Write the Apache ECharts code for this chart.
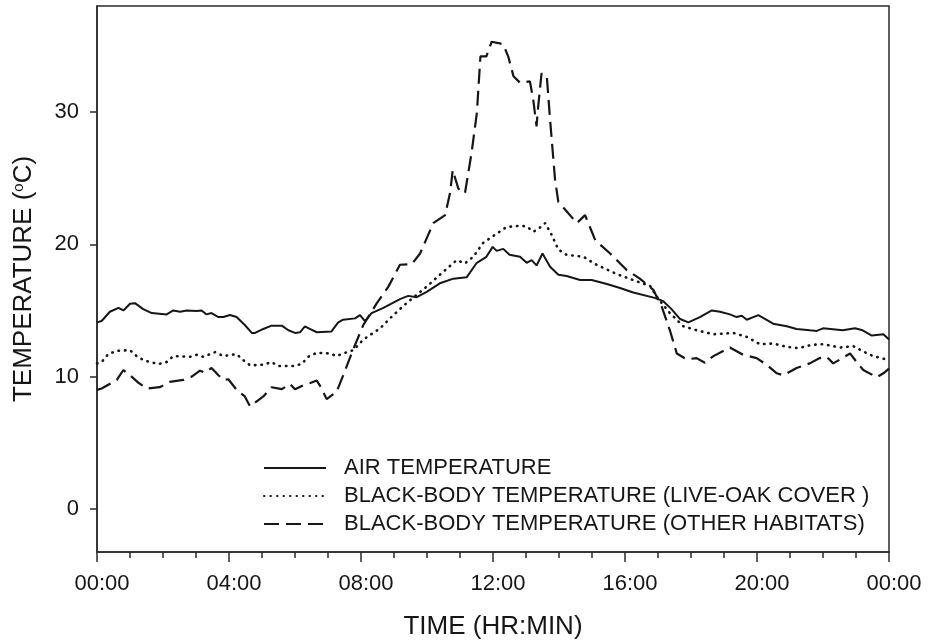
<!DOCTYPE html>
<html>
<head>
<meta charset="utf-8">
<script src="https://cdn.jsdelivr.net/npm/echarts@6/dist/echarts.min.js"></script>
<style>html,body{margin:0;padding:0;background:#fff;}#c{width:930px;height:644px;}</style>
</head>
<body>
<div id="c"></div>
<script>
// [hour, temperature °C]
const airTemp = [[0,14.1],[0.14,14.2],[0.39,14.9],[0.65,15.2],[0.8,15.0],[1.0,15.5],[1.15,15.55],[1.4,15.1],[1.66,14.8],[2.11,14.7],[2.31,15.0],[2.52,14.9],[2.72,15.0],[3.02,14.95],[3.17,15.0],[3.32,14.7],[3.47,14.8],[3.68,14.5],[3.83,14.5],[4.03,14.65],[4.23,14.5],[4.48,13.9],[4.69,13.3],[4.79,13.3],[5.04,13.6],[5.29,13.85],[5.6,13.85],[5.8,13.5],[6.0,13.3],[6.15,13.35],[6.3,13.8],[6.45,13.6],[6.66,13.35],[7.1,13.4],[7.31,14.1],[7.46,14.3],[7.82,14.4],[7.97,14.65],[8.12,14.2],[8.32,14.8],[8.68,15.2],[9.18,15.85],[9.43,16.1],[9.69,16.0],[9.99,16.4],[10.39,17.05],[10.8,17.4],[11.2,17.5],[11.51,18.6],[11.8,19.05],[11.99,19.8],[12.11,19.5],[12.31,19.65],[12.5,19.2],[12.82,19.05],[13.02,18.6],[13.17,18.8],[13.32,18.4],[13.5,19.3],[13.73,18.3],[13.98,17.7],[14.23,17.6],[14.64,17.3],[14.99,17.3],[15.45,17.0],[15.85,16.7],[16.25,16.35],[16.9,15.95],[17.16,15.7],[17.41,15.1],[17.67,14.35],[17.92,14.1],[18.27,14.5],[18.63,15.0],[18.88,14.9],[19.18,14.7],[19.38,14.5],[19.54,14.6],[19.69,14.3],[20.04,14.65],[20.49,14.0],[20.9,13.8],[21.2,13.6],[21.6,13.5],[21.81,13.45],[22.0,13.65],[22.6,13.5],[22.97,13.65],[23.2,13.5],[23.48,13.1],[23.83,13.2],[24,12.8]];

const oakTemp = [[0,11.0],[0.14,11.1],[0.34,11.7],[0.6,11.95],[1.0,12.0],[1.2,11.55],[1.45,11.2],[1.86,10.95],[2.11,11.1],[2.31,11.55],[2.82,11.5],[3.02,11.65],[3.22,11.5],[3.58,11.85],[3.83,11.55],[4.23,11.7],[4.43,11.25],[4.64,10.85],[5.04,10.9],[5.29,11.1],[5.5,10.8],[5.95,10.8],[6.2,10.95],[6.4,11.5],[6.66,11.8],[7.06,11.75],[7.26,11.55],[7.46,11.75],[7.77,12.0],[8.07,12.8],[8.58,13.65],[8.98,14.65],[9.38,15.55],[9.99,16.8],[10.39,17.7],[10.9,18.8],[11.15,18.55],[11.4,19.05],[11.7,20.1],[12.11,20.8],[12.41,21.3],[12.82,21.4],[13.02,21.35],[13.22,20.95],[13.37,21.15],[13.58,21.6],[13.78,20.7],[13.98,19.6],[14.23,19.2],[14.74,19.05],[15.14,18.45],[15.75,17.75],[16.35,17.2],[16.76,16.85],[17.0,15.9],[17.36,14.8],[17.77,13.8],[18.17,13.5],[18.68,13.2],[19.28,13.3],[19.69,13.0],[20.09,12.45],[20.49,12.5],[20.9,12.25],[21.25,12.15],[21.66,12.4],[22.0,12.45],[22.52,12.2],[22.92,12.3],[23.22,11.9],[23.52,11.55],[24,11.25]];

const otherTemp = [[0,9.0],[0.14,9.1],[0.6,9.75],[0.8,10.5],[1.0,10.1],[1.25,9.55],[1.5,9.1],[1.9,9.2],[2.2,9.6],[2.62,9.75],[2.87,10.0],[3.12,10.45],[3.27,10.3],[3.47,10.65],[3.68,10.1],[3.83,9.75],[3.98,9.8],[4.23,9.0],[4.48,8.5],[4.64,7.75],[5.04,8.5],[5.29,9.2],[5.6,9.05],[5.85,9.45],[6.0,9.05],[6.25,9.35],[6.5,9.55],[6.66,9.7],[6.76,9.3],[6.96,8.3],[7.26,8.85],[7.46,10.1],[7.77,12.1],[8.07,13.9],[8.48,15.55],[8.83,16.8],[9.18,18.45],[9.54,18.5],[9.79,19.3],[10.19,21.6],[10.55,22.2],[10.7,23.9],[10.78,25.6],[10.95,24.2],[11.15,23.85],[11.35,26.9],[11.51,29.9],[11.62,34.2],[11.8,34.2],[11.96,35.3],[12.16,35.2],[12.31,35.1],[12.46,34.2],[12.62,32.7],[12.82,32.2],[13.12,32.3],[13.22,30.9],[13.32,28.9],[13.35,29.9],[13.47,32.9],[13.63,32.7],[13.73,29.4],[13.88,24.9],[13.98,23.2],[14.23,22.5],[14.54,21.6],[14.79,22.2],[15.1,20.3],[15.55,19.3],[16.05,18.05],[16.45,17.4],[16.86,16.55],[17.11,15.3],[17.36,13.5],[17.57,11.75],[17.87,11.3],[18.17,11.4],[18.42,11.05],[18.68,11.55],[19.18,12.2],[19.58,11.65],[19.99,11.4],[20.29,10.9],[20.6,10.25],[20.8,10.1],[21.2,10.65],[21.6,11.0],[21.9,11.4],[22.11,11.5],[22.31,11.0],[22.52,11.3],[22.82,11.75],[23.02,11.1],[23.22,10.5],[23.63,9.95],[23.83,10.25],[24,10.6]];

const seriesNames = ['AIR TEMPERATURE', 'BLACK-BODY TEMPERATURE (LIVE-OAK COVER )', 'BLACK-BODY TEMPERATURE (OTHER HABITATS)'];
const hourTicks = [0, 4, 8, 12, 16, 20, 24];
const tickLabels = ['00:00', '04:00', '08:00', '12:00', '16:00', '20:00', '00:00'];
const yTicks = [0, 10, 20, 30];

const FONT = '"Liberation Sans", Arial, sans-serif';
const INK = '#161616';
const chart = echarts.init(document.getElementById('c'));
chart.setOption({
  animation: false,
  backgroundColor: '#fff',
  grid: { left: 97, right: 41, top: 6, bottom: 92, outerBoundsMode: 'none', containLabel: false,
    show: true, borderColor: '#2a2a2a', borderWidth: 1.5, backgroundColor: 'transparent' },
  legend: {
    orient: 'vertical', left: 258, top: 452, itemWidth: 62, itemHeight: 14, itemGap: 6,
    itemStyle: { opacity: 0 },
    textStyle: { fontFamily: FONT, fontSize: 22, color: INK, padding: [0, 0, 0, 13] },
    data: seriesNames
  },
  xAxis: {
    type: 'value', min: 0, max: 24, interval: 4,
    name: 'TIME (HR:MIN)', nameLocation: 'middle', nameGap: 62,
    nameTextStyle: { fontFamily: FONT, fontSize: 26, color: INK },
    axisLine: { onZero: false, lineStyle: { color: '#2a2a2a', width: 1.5 } },
    axisTick: { length: 10, lineStyle: { color: '#2a2a2a', width: 1.5 } },
    minorTick: { show: true, splitNumber: 4, length: 6, lineStyle: { color: '#2a2a2a', width: 1.5 } },
    splitLine: { show: false },
    axisLabel: { fontFamily: FONT, fontSize: 22, color: INK, margin: 21, padding: [0, 0, 0, 10],
      formatter: v => tickLabels[hourTicks.indexOf(v)] }
  },
  yAxis: {
    type: 'value', min: -3.25, max: 38,
    name: 'TEMPERATURE ({sup|o}C)', nameLocation: 'middle', nameGap: 60,
    nameTextStyle: { fontFamily: FONT, fontSize: 26, color: INK,
      rich: { sup: { fontFamily: FONT, fontSize: 15, color: INK, verticalAlign: 'top', padding: [0, 0, 10, 0] } } },
    axisLine: { onZero: false, lineStyle: { color: '#2a2a2a', width: 1.5 } },
    axisTick: { length: 7, customValues: yTicks, lineStyle: { color: '#2a2a2a', width: 1.5 } },
    splitLine: { show: false },
    axisLabel: { fontFamily: FONT, fontSize: 22, color: INK, margin: 18, customValues: yTicks }
  },
  series: [
    { name: seriesNames[0], type: 'line', data: airTemp, symbol: 'none', lineStyle: { color: INK, width: 2 }, itemStyle: { color: INK } },
    { name: seriesNames[1], type: 'line', data: oakTemp, symbol: 'none', lineStyle: { color: INK, width: 2.6, type: [0.5, 6], cap: 'round' }, itemStyle: { color: INK } },
    { name: seriesNames[2], type: 'line', data: otherTemp, symbol: 'none', lineStyle: { color: INK, width: 2.2, type: [15, 7] }, itemStyle: { color: INK } }
  ]
});
</script>
</body>
</html>
